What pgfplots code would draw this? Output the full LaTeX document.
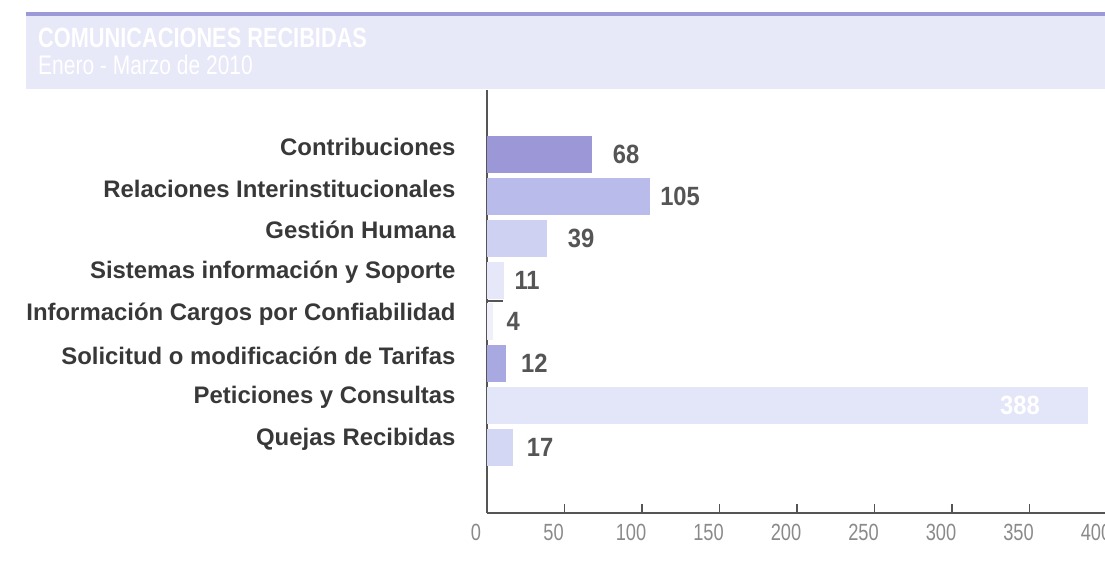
\documentclass[border=0pt]{standalone}
\usepackage{pgfplots}
\pgfplotsset{compat=1.18}
\usepackage{fontspec}
\setmainfont{Liberation Sans}
\newfontfamily\catfont{Liberation Sans}[FakeStretch=1.0]
\newfontfamily\valfont{Liberation Sans}[FakeStretch=0.9]
\newfontfamily\titlefont{Liberation Sans}[FakeStretch=0.78]
\newfontfamily\tickfont{Liberation Sans}[FakeStretch=0.78]
\definecolor{bandcol}{HTML}{E7E8F8}
\definecolor{stripecol}{HTML}{9C99D9}
\definecolor{axiscol}{HTML}{555555}
\definecolor{tickcol}{HTML}{8A8A8A}
\definecolor{catcol}{HTML}{383838}
\definecolor{valcol}{HTML}{555555}
\definecolor{cA}{HTML}{9C98D8}
\definecolor{cB}{HTML}{B9BBEB}
\definecolor{cC}{HTML}{CED1F2}
\definecolor{cD}{HTML}{E6E7F8}
\definecolor{cE}{HTML}{F0F0FA}
\definecolor{cF}{HTML}{A9A9E2}
\definecolor{cG}{HTML}{E3E5F8}
\definecolor{cH}{HTML}{D4D7F3}
\begin{document}
\begin{tikzpicture}[x=1bp,y=1bp]
\useasboundingbox (0,0) rectangle (1105,563);
\begin{scope}
\clip (0,0) rectangle (1105,563);
\fill[bandcol] (26,474) rectangle (1110,551);
\fill[stripecol] (26,547) rectangle (1110,551);
\node[anchor=base west, inner sep=0pt, text=white] at (38,515)
  {\titlefont\bfseries\fontsize{28}{28}\selectfont COMUNICACIONES RECIBIDAS};
\node[anchor=base west, inner sep=0pt, text=white] at (38,488)
  {\titlefont\fontsize{27}{27}\selectfont Enero - Marzo de 2010};
\begin{axis}[
  at={(487bp,50bp)}, anchor=south west,
  scale only axis, width=620bp, height=423bp,
  xmin=0, xmax=400, ymin=-1.571, ymax=8.548,
  axis x line=bottom, axis y line=left,
  axis line style={-, draw=axiscol, line width=1.2bp},
  /pgf/number format/assume math mode=true,
  xtick={0,50,...,400},
  tick align=inside, major tick length=9bp,
  xtick style={draw=axiscol, line width=1.1bp},
  xticklabel style={font=\tickfont\fontsize{23.5}{23.5}\selectfont, text=tickcol, xshift=-11bp, yshift=-8bp},
  ytick={0,...,7},
  yticklabels={Quejas Recibidas, Peticiones y Consultas, Solicitud o modificación de Tarifas, Información Cargos por Confiabilidad, Sistemas información y Soporte, Gestión Humana, Relaciones Interinstitucionales, Contribuciones},
  yticklabel style={font=\catfont\bfseries\fontsize{24}{24}\selectfont, text=catcol, xshift=-19bp, yshift=8bp},
  ytick style={draw=none},
  extra y ticks={3.5}, extra y tick labels={},
  extra y tick style={ytick style={draw=axiscol, line width=1.1bp}, tick align=inside, major tick length=16bp},
  xbar, bar width=37bp, bar shift=0pt,
  every axis plot/.append style={draw=none},
  nodes near coords,
  nodes near coords style={font=\valfont\bfseries\fontsize{26.5}{26.5}\selectfont, text=valcol, anchor=west},
]
\addplot[fill=cA, nodes near coords style={xshift=17bp}] coordinates {(68,7)};
\addplot[fill=cB, nodes near coords style={xshift=7bp}] coordinates {(105,6)};
\addplot[fill=cC, nodes near coords style={xshift=17bp}] coordinates {(39,5)};
\addplot[fill=cD, nodes near coords style={xshift=7bp}] coordinates {(11,4)};
\addplot[fill=cE, nodes near coords style={xshift=10bp}] coordinates {(4,3)};
\addplot[fill=cF, nodes near coords style={xshift=12bp}] coordinates {(12,2)};
\addplot[fill=cG, nodes near coords style={anchor=east, xshift=-45bp, text=white}] coordinates {(388,1)};
\addplot[fill=cH, nodes near coords style={xshift=10bp}] coordinates {(17,0)};
\end{axis}
\end{scope}
\end{tikzpicture}
\end{document}
